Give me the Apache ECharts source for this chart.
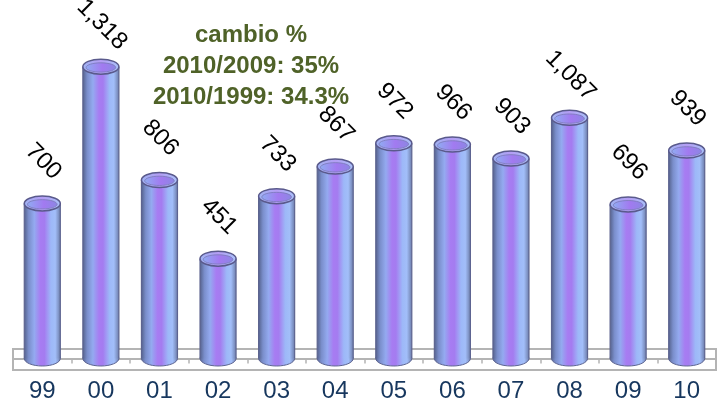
<!DOCTYPE html>
<html>
<head>
<meta charset="utf-8">
<script src="https://cdn.jsdelivr.net/npm/echarts@6/dist/echarts.min.js"></script>
<style>
  html, body { margin: 0; padding: 0; background: #fff; }
  #chart { width: 724px; height: 410px; }
</style>
</head>
<body>
<div id="chart"></div>
<script>
// datos
const years = ['99', '00', '01', '02', '03', '04', '05', '06', '07', '08', '09', '10']
const values = [700, 1318, 806, 451, 733, 867, 972, 966, 903, 1087, 696, 939]
const notes = ['cambio %', '2010/2009: 35%', '2010/1999: 34.3%']

const chart = echarts.init(document.getElementById('chart'))

const bodyFill = () => new echarts.graphic.LinearGradient(0, 0, 1, 0, [
  { offset: 0, color: '#56638e' },
  { offset: 0.12, color: '#7a8ecb' },
  { offset: 0.28, color: '#94aaf0' },
  { offset: 0.45, color: '#a77cf2' },
  { offset: 0.56, color: '#a47cf0' },
  { offset: 0.74, color: '#9db8f8' },
  { offset: 0.86, color: '#a2bef9' },
  { offset: 1, color: '#6e7eab' }
])

const renderCylinder = (params, api) => {
  const top = api.coord([api.value(0), api.value(1)])
  const base = api.coord([api.value(0), 0])
  const w = api.size([1, 0])[0] * 0.615
  const rx = w / 2
  const ry = 7.5
  const cx = top[0]
  const edge = '#5d6490'
  return {
    type: 'group',
    children: [
      {
        type: 'ellipse',
        shape: { cx: cx, cy: base[1], rx: rx, ry: ry },
        style: { fill: bodyFill(), stroke: edge, lineWidth: 1 }
      },
      {
        type: 'rect',
        shape: { x: cx - rx, y: top[1], width: w, height: base[1] - top[1] },
        style: { fill: bodyFill() }
      },
      {
        type: 'line',
        shape: { x1: cx - rx, y1: top[1], x2: cx - rx, y2: base[1] },
        style: { stroke: edge, lineWidth: 1.2 }
      },
      {
        type: 'line',
        shape: { x1: cx + rx, y1: top[1], x2: cx + rx, y2: base[1] },
        style: { stroke: edge, lineWidth: 1.2 }
      },
      {
        type: 'ellipse',
        shape: { cx: cx, cy: top[1], rx: rx, ry: ry },
        style: {
          fill: new echarts.graphic.LinearGradient(0, 0, 1, 0, [
            { offset: 0, color: '#9fb4f2' },
            { offset: 0.5, color: '#b49cf4' },
            { offset: 1, color: '#a9c2fa' }
          ]),
          stroke: '#5a5a8c',
          lineWidth: 1.5
        }
      },
      {
        type: 'ellipse',
        shape: { cx: cx, cy: top[1] + 0.8, rx: rx * 0.82, ry: ry * 0.62 },
        style: {
          fill: new echarts.graphic.LinearGradient(0, 0, 1, 0, [
            { offset: 0, color: '#90acf2' },
            { offset: 0.55, color: '#a27af0' },
            { offset: 1, color: '#8c86e4' }
          ]),
          stroke: '#7a78b8',
          lineWidth: 0.8
        }
      },
      {
        type: 'text',
        x: cx + 1,
        y: top[1] - 42,
        rotation: -Math.PI / 4,
        style: {
          text: echarts.format.addCommas(api.value(1)),
          fill: '#000',
          font: '24px "Liberation Sans", Arial, sans-serif',
          align: 'center',
          textAlign: 'center',
          verticalAlign: 'middle',
          textVerticalAlign: 'middle'
        }
      }
    ]
  }
}

chart.setOption({
  animation: false,
  grid: { left: 13, right: 8, top: 48.5, bottom: 51.5 },
  xAxis: {
    type: 'category',
    data: years,
    boundaryGap: true,
    offset: 11.5,
    axisLine: { lineStyle: { color: '#b4b4b4', width: 2 } },
    axisTick: { show: true, length: 5, lineStyle: { color: '#b4b4b4', width: 1.5 } },
    axisLabel: {
      margin: 9,
      color: '#17375e',
      fontSize: 24,
      fontFamily: '"Liberation Sans", Arial, sans-serif'
    }
  },
  yAxis: {
    type: 'value',
    min: 0,
    max: 1400,
    show: false,
    splitLine: { show: false }
  },
  graphic: [
    {
      type: 'rect',
      z: 1,
      shape: { x: 13, y: 349, width: 703, height: 21 },
      style: { fill: 'none', stroke: '#b4b4b4', lineWidth: 2 }
    },
    {
      type: 'text',
      x: 251,
      y: 20,
      style: {
        text: notes.join('\n'),
        font: 'bold 24px "Liberation Sans", Arial, sans-serif',
        fill: '#4f6228',
        align: 'center',
        textAlign: 'center',
        verticalAlign: 'top',
        lineHeight: 31
      }
    }
  ],
  series: [
    {
      type: 'custom',
      renderItem: renderCylinder,
      data: values.map((v, i) => [i, v]),
      encode: { x: 0, y: 1 },
      z: 5
    }
  ]
})
</script>
</body>
</html>
